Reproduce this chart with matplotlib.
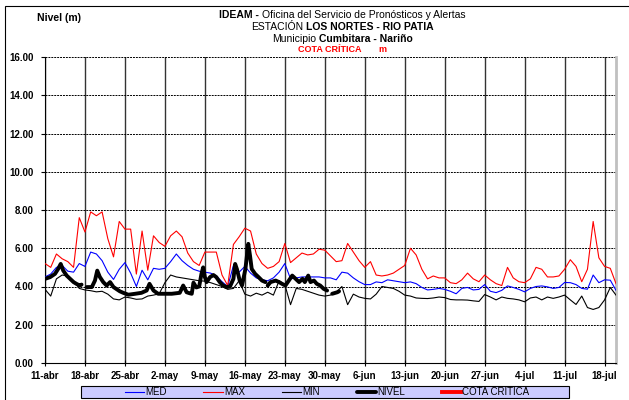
import numpy as np
import matplotlib
matplotlib.use('Agg')
from matplotlib import pyplot as plt
from matplotlib.patches import Rectangle

plt.rcParams['font.family'] = ['Liberation Sans', 'DejaVu Sans']

W, H = 629, 400

FECHAS = ['11-abr', '18-abr', '25-abr', '2-may', '9-may', '16-may', '23-may',
          '30-may', '6-jun', '13-jun', '20-jun', '27-jun', '4-jul', '11-jul',
          '18-jul']
DIAS_TICKS = list(range(0, 7 * len(FECHAS), 7))

# valores diarios (dia 0 = 11-abr)
dias = np.arange(101)
med = [4.5, 4.65, 5.0, 5.1, 4.8, 4.75, 5.2, 5.05, 5.8, 5.7,
       5.35, 4.75, 4.37, 4.9, 5.25, 4.7, 4.0, 4.85, 4.35, 4.95,
       4.9, 4.95, 5.3, 5.7, 5.35, 5.1, 4.9, 4.8, 4.75, 4.7,
       4.55, 4.25, 4.0, 5.1, 4.75, 5.05, 4.7, 4.45, 4.35, 4.3,
       4.45, 4.75, 5.2, 4.4, 4.45, 4.5, 4.5, 4.5, 4.5, 4.45,
       4.45, 4.35, 4.75, 4.7, 4.45, 4.25, 4.1, 4.1, 4.24, 4.2,
       4.35, 4.3, 4.25, 4.2, 4.24, 4.15, 3.95, 3.82, 3.85, 3.9,
       3.85, 3.75, 3.62, 3.9, 3.95, 3.82, 3.85, 4.1, 3.75, 3.68,
       3.8, 4.03, 3.95, 3.85, 3.72, 3.9, 4.0, 4.03, 3.98, 3.9,
       3.95, 4.21, 4.2, 4.1, 3.9, 3.86, 4.6, 4.2, 4.35, 4.33,
       3.8]
maxi = [5.2, 5.0, 5.7, 5.45, 5.3, 5.0, 7.6, 6.85, 7.9, 7.7,
        7.9, 6.5, 5.55, 7.4, 7.0, 7.0, 4.65, 6.9, 4.85, 6.65,
        6.3, 6.1, 6.65, 6.9, 6.6, 5.75, 5.3, 5.1, 5.8, 5.8,
        5.8, 4.6, 4.05, 6.2, 6.6, 7.05, 6.9, 5.7, 5.2, 4.95,
        5.05, 5.3, 6.25, 5.25, 5.5, 5.75, 5.65, 5.7, 5.95, 5.9,
        5.6, 5.3, 5.35, 6.25, 5.8, 5.35, 5.0, 5.3, 4.6, 4.55,
        4.6, 4.7, 4.9, 5.1, 6.0, 5.65, 4.9, 4.4, 4.55, 4.45,
        4.45, 4.2, 4.15, 4.35, 4.7, 4.4, 4.25, 4.6, 4.35, 4.15,
        4.05, 5.0, 4.45, 4.25, 4.2, 4.4, 5.0, 4.9, 4.5, 4.5,
        4.55, 4.9, 5.4, 5.05, 4.25, 4.9, 7.4, 5.5, 5.05, 4.95,
        4.15]
mini = [3.85, 3.5, 4.4, 4.6, 4.55, 4.3, 3.9, 3.82, 3.78, 3.72,
        3.75, 3.6, 3.35, 3.3, 3.45, 3.4, 3.33, 3.35, 3.5, 3.55,
        3.62, 4.2, 4.6, 4.5, 4.45, 4.4, 4.35, 4.3, 4.28, 4.2,
        4.1, 4.0, 3.85, 3.9, 4.3, 3.6, 3.5, 3.65, 3.55, 3.7,
        3.55, 4.3, 4.1, 3.05, 3.9, 3.85, 3.75, 3.65, 3.55, 3.5,
        3.55, 3.7, 4.0, 3.05, 3.6, 3.45, 3.38, 3.35, 3.6, 4.0,
        3.95, 3.9, 3.75, 3.55, 3.5, 3.4, 3.38, 3.37, 3.4, 3.45,
        3.42, 3.32, 3.3, 3.3, 3.29, 3.25, 3.22, 3.58, 3.45, 3.3,
        3.45, 3.38, 3.35, 3.3, 3.2, 3.4, 3.45, 3.3, 3.45, 3.38,
        3.45, 3.55, 3.3, 3.06, 3.5, 2.9, 2.8, 2.9, 3.3, 3.95,
        3.55]

# nivel observado (varias lecturas por dia, nan = sin dato)
nivel_dia = [0.0, 0.9, 1.75, 2.3, 2.75, 3.2, 3.8, 4.4, 5.0, 5.5, 6.1, 6.4, 6.8,
             7.3, 8.2, 8.75, 9.15, 9.6, 10.2, 10.8, 11.4, 12.0, 12.6, 13.1,
             13.7, 14.6, 15.8, 16.9, 17.8, 18.3, 19.0, 19.8, 21.0, 22.2, 23.6,
             24.2, 24.8, 25.3, 25.7, 26.0, 26.5, 27.0, 27.4, 27.7, 28.0, 28.3,
             28.9, 29.5, 30.0, 30.6, 31.2, 31.8, 32.4, 33.0, 33.3, 33.6, 34.1,
             34.5, 35.1, 35.6, 35.9, 36.2, 36.8, 37.4, 38.0, 38.6, 38.8,
             39.0, 39.5, 40.4, 41.0, 41.5, 42.1, 42.7, 43.3, 43.9, 44.5, 45.1,
             45.5, 46.1, 46.5, 47.1, 47.6, 48.2, 48.8, 49.4, 49.9,
             50.3, 51.2, 51.5]
nivel_m = [4.4, 4.49, 4.66, 4.92, 5.18, 4.83, 4.57, 4.4, 4.23, 4.14, 4.05, 4.1, np.nan,
           3.97, 3.97, 4.31, 4.83, 4.5, 4.23, 4.05, 4.23, 3.97, 3.85, 3.75,
           3.67, 3.57, 3.62, 3.67, 3.79, 4.14, 3.79, 3.62, 3.62, 3.62, 3.67,
           4.05, 3.7, 3.65, 3.62, 4.2, 3.95, 4.0, 4.66, 5.0, 4.49, 4.23,
           4.49, 4.6, 4.49, 4.23, 4.05, 3.97, 4.0, 4.4, 5.18, 4.92, 4.31,
           4.05, 4.92, 6.23, 5.62, 4.92, 4.66, 4.49, 4.31, 4.23, np.nan,
           4.05, 4.23, 4.31, 4.23, 4.14, 4.05, 4.31, 4.57, 4.4, 4.23, 4.4,
           4.23, 4.57, 4.23, 4.31, 4.14, 4.05, 3.88, 3.79, np.nan,
           3.62, 3.7, 3.75]
cota_critica = []

fig = plt.figure(figsize=(W / 100, H / 100), dpi=100)
ax = fig.add_axes([45 / W, 37 / H, (616 - 45) / W, (363 - 57) / H])

ax.plot(dias, med, color='#0000ff', lw=0.8, label='MED', zorder=3)
ax.plot(dias, maxi, color='#ff0000', lw=0.8, label='MAX', zorder=3)
ax.plot(dias, mini, color='black', lw=0.8, label='MIN', zorder=3)
ax.plot(nivel_dia, nivel_m, color='black', lw=2.8, label='NIVEL', zorder=4,
        solid_joinstyle='round', solid_capstyle='round')
ax.plot(cota_critica, cota_critica, color='#ff0000', lw=2.8, label='COTA CRITICA')

ax.set_xlim(0, 100)
ax.set_ylim(0, 16)
ax.set_xticks(DIAS_TICKS)
ax.set_xticklabels(FECHAS, fontsize=7, fontweight='bold')
ax.set_yticks(np.arange(0, 17, 2))
ax.set_yticklabels(['%.2f' % v for v in np.arange(0, 17, 2)], fontsize=7, fontweight='bold')
ax.tick_params(axis='x', direction='inout', length=5, width=0.8, pad=3)
ax.tick_params(axis='y', direction='out', length=3, width=0.8, pad=5)

for d in DIAS_TICKS:
    ax.axvline(d, color='#333333', lw=1.0, zorder=1)
for v in np.arange(2, 17, 2):
    ax.axhline(v, color='black', lw=0.7, ls=(0, (2, 1)), zorder=1)

ax.spines['top'].set_visible(False)
ax.spines['right'].set_color('#c0c0c0')
ax.spines['right'].set_linewidth(2.0)
ax.spines['left'].set_linewidth(0.8)
ax.spines['bottom'].set_linewidth(0.8)

# marco exterior
fig.patches.append(Rectangle((5 / W, -0.02), 1.0, 1 - 6 / H + 0.02, transform=fig.transFigure,
                             fill=False, edgecolor='black', lw=0.8))

# encabezado con partes en negrita
CX = 342
r = fig.canvas.get_renderer()


def linea_titulo(y, partes, size=7.5, color='black', hueco=None):
    textos = [fig.text(0, 1 - y / H, s, fontsize=size, fontweight=w, color=color,
                       va='center', ha='left') for s, w in partes]
    anchos = [t.get_window_extent(r).width for t in textos]
    if hueco is None:
        hueco = 0.28 * size * 100 / 72
    x = CX - (sum(anchos) + hueco * (len(anchos) - 1)) / 2
    for t, a in zip(textos, anchos):
        t.set_x(x / W)
        x += a + hueco


linea_titulo(15, [('IDEAM -', 'bold'), ('Oficina del Servicio de Pronósticos y Alertas', 'normal')])
linea_titulo(27, [('ESTACIÓN', 'normal'), ('LOS NORTES - RIO PATIA', 'bold')])
linea_titulo(39, [('Municipio', 'normal'), ('Cumbitara - Nariño', 'bold')])
linea_titulo(50, [('COTA CRÍTICA', 'bold'), ('m', 'bold')],
             size=6.5, color='#ff0000', hueco=17)
fig.text(37 / W, 1 - 18 / H, 'Nivel (m)', fontsize=7.5, fontweight='bold', va='center')

# caja de la leyenda
fig.patches.append(Rectangle((81 / W, 1 - 398 / H), 488 / W, 12 / H, transform=fig.transFigure,
                             facecolor='#ccccff', edgecolor='black', lw=0.8, zorder=0))
leg = fig.legend(loc='center', bbox_to_anchor=(327 / W, 1 - 392 / H), ncol=5,
                 fontsize=7, frameon=False, borderpad=0.0, handlelength=2.0,
                 handletextpad=0.1, columnspacing=3.8, borderaxespad=0.0)

fig.savefig('out.png', dpi=100)
